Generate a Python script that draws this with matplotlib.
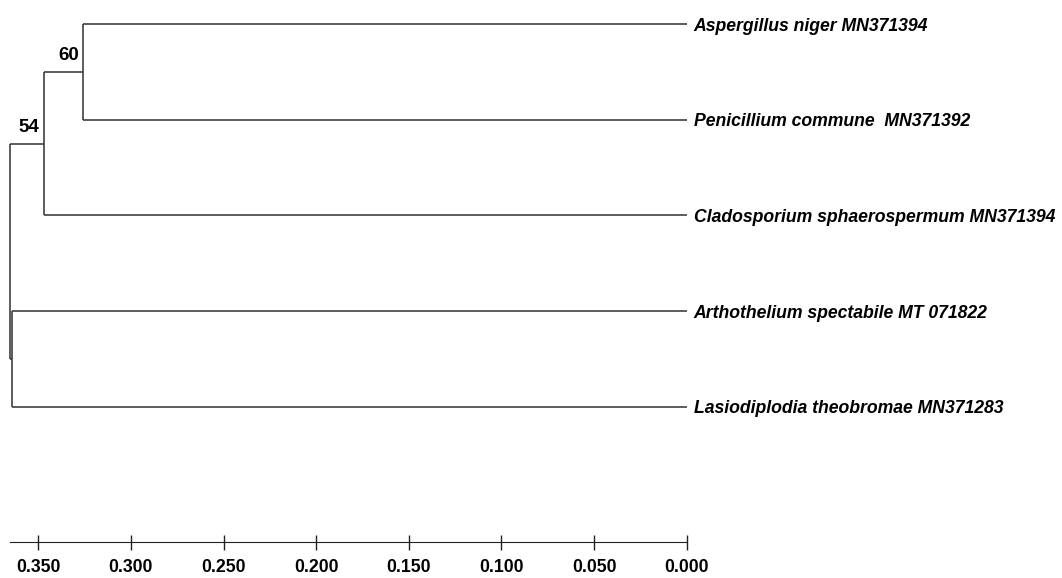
import matplotlib.pyplot as plt

# leaves, top to bottom
leaf_names = [
    "Aspergillus niger MN371394",
    "Penicillium commune  MN371392",
    "Cladosporium sphaerospermum MN371394",
    "Arthothelium spectabile MT 071822",
    "Lasiodiplodia theobromae MN371283",
]
# internal nodes: children (index >= 5 means internal node), height, bootstrap
node_children = [(0, 1), (5, 2), (3, 4), (6, 7)]
node_height = [0.3257, 0.3471, 0.3640, 0.3651]
node_support = ["60", "54", "", ""]

tick_values = [0.35, 0.30, 0.25, 0.20, 0.15, 0.10, 0.05, 0.00]

plt.rcParams['font.family'] = ['Liberation Sans', 'DejaVu Sans']

fig = plt.figure(figsize=(10.62, 5.78), dpi=100)
ax = fig.add_axes([0, 0, 1, 1])
ax.set_xlim(0.37067, -0.20258)
ax.set_ylim(5.786, -0.2507)

line_kw = dict(color='#383838', lw=1.15, solid_capstyle='butt')

n = len(leaf_names)
xs = [0.0] * n
ys = list(range(n))
for (a, b), h in zip(node_children, node_height):
    xs.append(h)
    ys.append((ys[a] + ys[b]) / 2)

for k, ((a, b), h) in enumerate(zip(node_children, node_height)):
    ax.plot([h, h], [ys[a], ys[b]], **line_kw)
    for c in (a, b):
        ax.plot([h, xs[c]], [ys[c], ys[c]], **line_kw)
    if node_support[k]:
        ax.annotate(node_support[k], (h, ys[n + k]), xytext=(-4, 8),
                    textcoords='offset pixels', ha='right', va='bottom',
                    fontsize=13.5, fontweight='bold')

for i, name in enumerate(leaf_names):
    ax.annotate(name, (0.0, i), xytext=(7, 0), textcoords='offset pixels',
                ha='left', va='center_baseline', fontsize=12.7,
                fontweight='bold', fontstyle='italic')

# scale axis
for s in ['top', 'left', 'right']:
    ax.spines[s].set_visible(False)
ax.spines['bottom'].set_position(('data', 5.41))
ax.spines['bottom'].set_bounds(0.3653, 0.0)
ax.spines['bottom'].set_color('#222222')
ax.set_yticks([])
ax.set_xticks(tick_values)
ax.set_xticklabels([f"{v:.3f}" for v in tick_values])
ax.tick_params(axis='x', direction='inout', length=10.8, width=1,
               color='#222222', pad=6.5, labelsize=12.7)
for lbl in ax.get_xticklabels():
    lbl.set_fontweight('bold')

fig.savefig('out.png', dpi=100)
